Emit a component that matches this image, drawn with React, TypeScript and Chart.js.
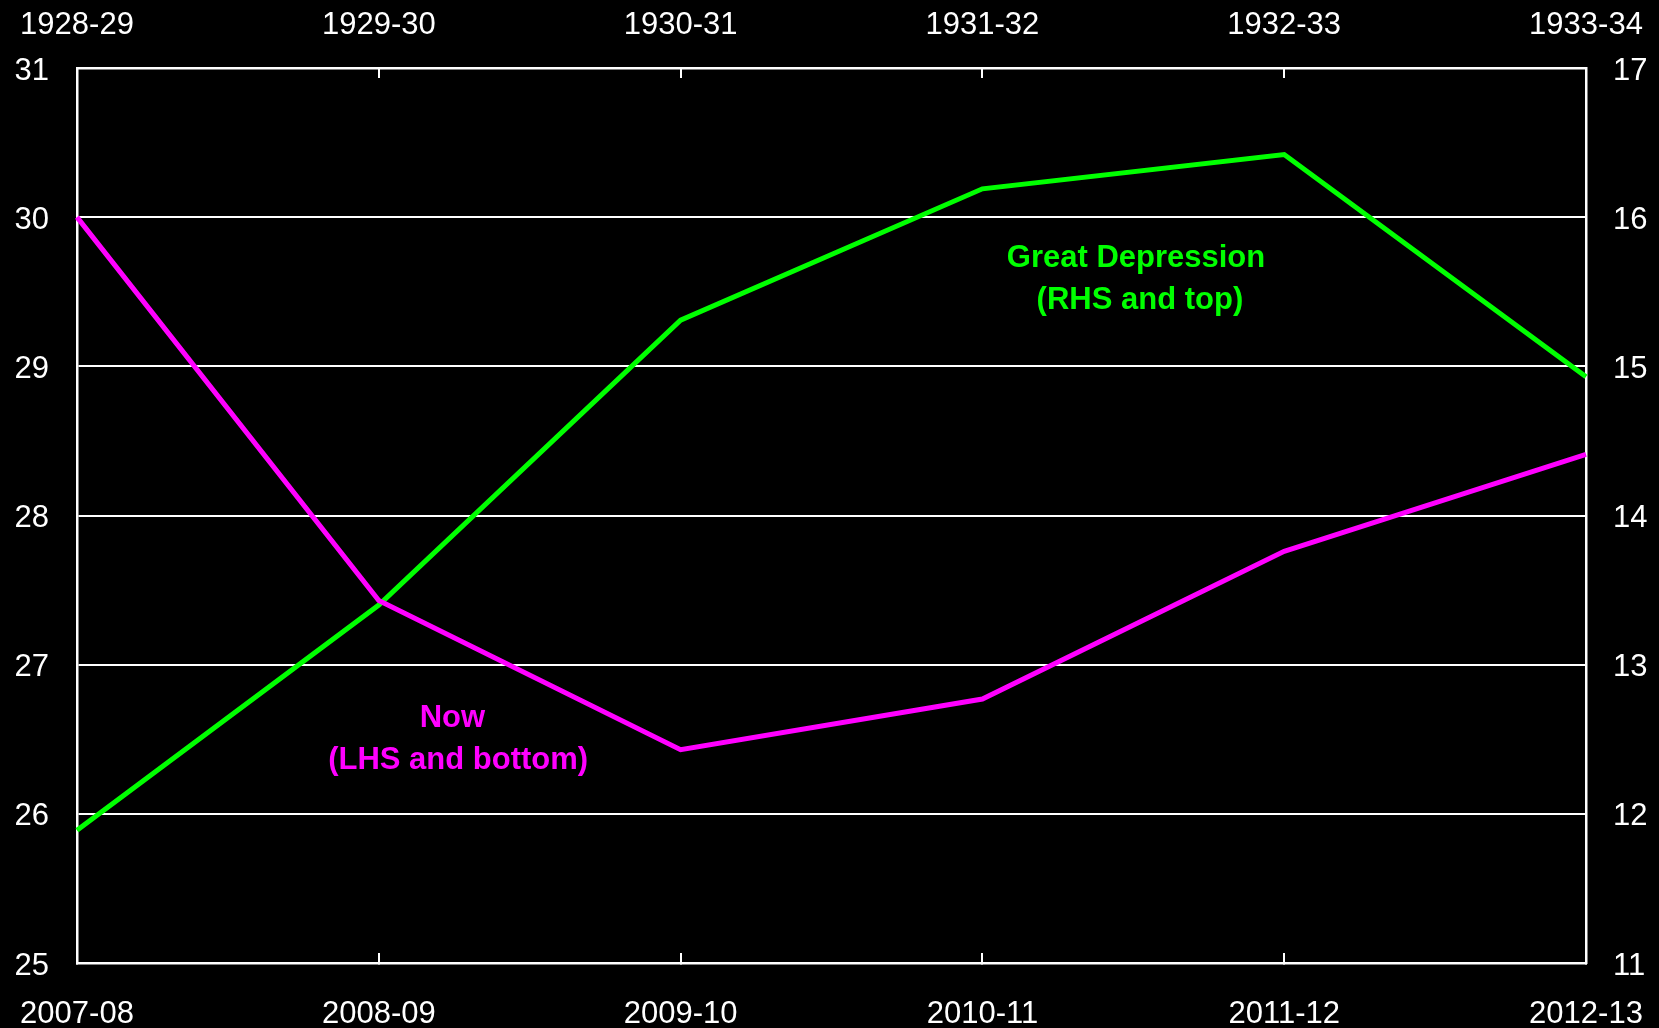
import React, { useEffect, useRef } from "react";
import { Chart, registerables } from "chart.js";

Chart.register(...registerables);

const nowCategories = ["2007-08", "2008-09", "2009-10", "2010-11", "2011-12", "2012-13"];
const gdCategories = ["1928-29", "1929-30", "1930-31", "1931-32", "1932-33", "1933-34"];
const nowValues = [30.0, 27.43, 26.43, 26.77, 27.76, 28.41];
const gdValues = [11.89, 13.4, 15.31, 16.19, 16.42, 14.93];
const leftTicks = { min: 25, max: 31, step: 1 };
const rightTicks = { min: 11, max: 17, step: 1 };

const MAGENTA = "#FF00FF";
const GREEN = "#00FF00";
const FONT = "Arial, 'Liberation Sans', sans-serif";

const annotations = [
  { text: "Great Depression", color: GREEN, xScale: "x2", yScale: "y2", x: 3.509, y: 15.725 },
  { text: "(RHS and top)", color: GREEN, xScale: "x2", yScale: "y2", x: 3.522, y: 15.445 },
  { text: "Now", color: MAGENTA, xScale: "x", yScale: "y", x: 1.244, y: 26.637 },
  { text: "(LHS and bottom)", color: MAGENTA, xScale: "x", yScale: "y", x: 1.263, y: 26.36 },
];

const labelPlugin = {
  id: "labels",
  afterDatasetsDraw(chart: any) {
    const ctx = chart.ctx;
    ctx.save();
    ctx.font = `bold 31px ${FONT}`;
    ctx.textAlign = "center";
    ctx.textBaseline = "middle";
    for (const a of annotations) {
      const px = chart.scales[a.xScale].getPixelForValue(a.x);
      const py = chart.scales[a.yScale].getPixelForValue(a.y);
      ctx.fillStyle = a.color;
      ctx.fillText(a.text, px, py);
    }
    ctx.restore();
  },
};

function fixSize(w: number | null, h: number | null) {
  return (s: any) => {
    if (w !== null) s.width = w;
    if (h !== null) s.height = h;
    s.paddingLeft = 0;
    s.paddingRight = 0;
    s.paddingTop = 0;
    s.paddingBottom = 0;
  };
}

export default function App() {
  const ref = useRef<HTMLCanvasElement | null>(null);

  useEffect(() => {
    document.body.style.margin = "0";
    document.body.style.background = "#000";
    if (!ref.current) return;
    const tickFont = { family: FONT, size: 31 };
    const chart = new Chart(ref.current, {
      type: "line",
      data: {
        labels: nowCategories,
        datasets: [
          {
            label: "Now",
            data: nowValues,
            borderColor: MAGENTA,
            borderWidth: 5,
            pointRadius: 0,
            tension: 0,
            xAxisID: "x",
            yAxisID: "y",
          },
          {
            label: "Great Depression",
            data: gdValues,
            borderColor: GREEN,
            borderWidth: 5,
            pointRadius: 0,
            tension: 0,
            xAxisID: "x2",
            yAxisID: "y2",
          },
        ],
      },
      options: {
        animation: false,
        responsive: true,
        maintainAspectRatio: false,
        layout: { padding: 0 },
        plugins: { legend: { display: false }, tooltip: { enabled: false } },
        scales: {
          x: {
            type: "category",
            position: "bottom",
            labels: nowCategories,
            offset: false,
            grid: { color: "#fff", lineWidth: 2, drawOnChartArea: false, drawTicks: true, tickLength: -10 },
            border: { color: "#fff", width: 2.5 },
            ticks: { color: "#fff", font: tickFont, padding: 42.5, maxRotation: 0, autoSkip: false },
            afterFit: fixSize(null, 65),
          },
          x2: {
            type: "category",
            position: "top",
            labels: gdCategories,
            offset: false,
            grid: { color: "#fff", lineWidth: 2, drawOnChartArea: false, drawTicks: true, tickLength: -10 },
            border: { color: "#fff", width: 2.5 },
            ticks: { color: "#fff", font: tickFont, padding: 34.4, maxRotation: 0, autoSkip: false },
            afterFit: fixSize(null, 68),
          },
          y: {
            type: "linear",
            position: "left",
            min: leftTicks.min,
            max: leftTicks.max,
            grid: { color: "#fff", lineWidth: 2, drawTicks: false },
            border: { color: "#fff", width: 2.5 },
            ticks: { color: "#fff", font: tickFont, stepSize: leftTicks.step, padding: 28, labelOffset: 3 },
            afterFit: fixSize(77, null),
          },
          y2: {
            type: "linear",
            position: "right",
            min: rightTicks.min,
            max: rightTicks.max,
            grid: { display: true, drawOnChartArea: false, drawTicks: false },
            border: { color: "#fff", width: 2.5 },
            ticks: { color: "#fff", font: tickFont, stepSize: rightTicks.step, padding: 27, labelOffset: 3 },
            afterFit: fixSize(73, null),
          },
        },
      },
      plugins: [labelPlugin],
    });
    return () => chart.destroy();
  }, []);

  return (
    <div style={{ width: 1659, height: 1028, background: "#000", position: "relative" }}>
      <canvas ref={ref} />
    </div>
  );
}
